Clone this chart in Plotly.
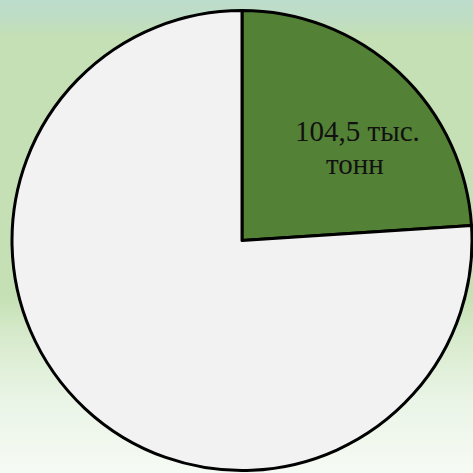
import plotly.graph_objects as go
import numpy as np

# Data
categories = ["Показатель", "Остальное"]
values = [104.5, 331.5]
label_lines = ["104,5 тыс.", "тонн"]

W = H = 473
fig = go.Figure()

fig.add_trace(go.Pie(
    labels=categories,
    values=values,
    textinfo="none",
    sort=False,
    direction="clockwise",
    rotation=0,
    marker=dict(colors=["#538135", "#f2f2f2"], line=dict(color="#000000", width=3)),
    domain=dict(x=[12 / W, 472 / W], y=[(H - 471) / H, (H - 10) / H]),
    showlegend=False,
    hoverinfo="none",
))

# label of the green slice
line_pos = [(357, 131), (355, 164)]
annotations = []
for txt, (px, py) in zip(label_lines, line_pos):
    annotations.append(dict(text=txt, x=px / W, y=1 - py / H, xref="paper", yref="paper",
                            xanchor="center", yanchor="middle", showarrow=False,
                            font=dict(family="Liberation Serif", size=29, color="#111111")))

# background gradient (styling)
stops_y = [0, 20, 38, 295, 335, 400, 473]
stops_c = [(188, 220, 205), (191, 221, 196), (197, 224, 180), (197, 224, 180),
           (214, 234, 203), (234, 244, 230), (246, 250, 244)]
shapes = []
n = 118
for i in range(n):
    y0 = i * H / n
    y1 = (i + 1) * H / n
    ym = (y0 + y1) / 2
    c = [int(round(np.interp(ym, stops_y, [s[k] for s in stops_c]))) for k in range(3)]
    shapes.append(dict(type="rect", xref="paper", yref="paper", x0=0, x1=1,
                       y0=1 - y1 / H - 0.001, y1=1 - y0 / H + 0.001,
                       fillcolor=f"rgb({c[0]},{c[1]},{c[2]})", line=dict(width=0), layer="below"))

fig.update_layout(
    width=W, height=H,
    margin=dict(l=0, r=0, t=0, b=0),
    paper_bgcolor="rgb(197,224,180)",
    plot_bgcolor="rgba(0,0,0,0)",
    shapes=shapes,
    annotations=annotations,
)

fig.write_html("out.html", config={"displayModeBar": False},
               post_script="document.body.style.margin='0';document.body.style.overflow='hidden';")
